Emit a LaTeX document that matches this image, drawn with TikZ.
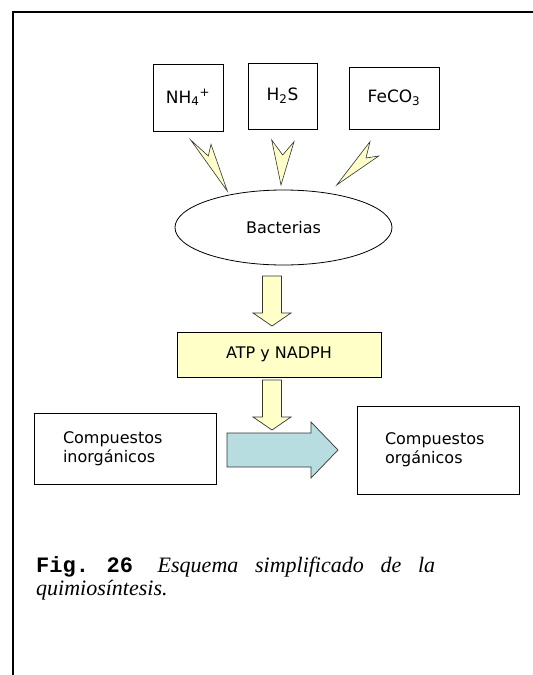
\documentclass[tikz,border=0pt]{standalone}
\usepackage{fontspec}
\setmainfont{DejaVu Sans}
\newfontfamily\capmono{Liberation Mono}
\newfontfamily\capserif{Liberation Serif}
\usetikzlibrary{shapes.geometric}
\definecolor{paleyellow}{RGB}{255,255,200}
\definecolor{paleblue}{RGB}{183,221,224}

\begin{document}
\begin{tikzpicture}[x=1pt,y=-1pt]

        \tikzset{
            frame/.style={line width=1.1pt},
            chem/.style={draw, line width=0.9pt, inner sep=0pt, font=\fontsize{17}{20}\selectfont},
            cell/.style={draw, ellipse, line width=0.8pt, inner sep=0pt,
                minimum width=217pt, minimum height=75pt, font=\fontsize{16}{19}\selectfont},
            energy/.style={draw, fill=paleyellow, line width=0.9pt, inner sep=0pt,
                font=\fontsize{16}{19}\selectfont},
            compound/.style={draw, line width=0.9pt, align=left, inner ysep=0pt,
                font=\fontsize{16}{19}\selectfont},
            bolt/.style={draw=black!80, fill=paleyellow, line width=0.6pt},
            yarrow/.style={draw=black!80, fill=paleyellow, line width=0.7pt},
            barrow/.style={draw=black!80, fill=paleblue, line width=0.7pt}
        }

        \useasboundingbox (0,0) rectangle (533,675);

        \draw[frame] (13,675) -- (13,12) -- (533,12);

        \node[chem, minimum width=70pt, minimum height=67pt] (nh4) at (188,97.5)
        {NH\textsubscript{4}\textsuperscript{+}};
        \node[chem, minimum width=69pt, minimum height=66pt] (h2s) at (282.5,96)
        {H\textsubscript{2}S};
        \node[chem, minimum width=90pt, minimum height=62pt] (feco3) at (394,98)
        {FeCO\textsubscript{3}};

        \node[cell] (bact) at (283.5,227.5) {Bacterias};

        \draw[bolt] (190.7,140) -- (208.3,156) -- (211,144.3) -- (227.3,191) -- cycle;
        \draw[bolt] (271.7,140) -- (282.7,155) -- (294,141.7) -- (281,185) -- cycle;
        \draw[bolt] (336.7,185) -- (370,141.7) -- (366,158) -- (378.7,156) -- cycle;

        \node[energy, minimum width=204pt, minimum height=45pt] (atp) at (279,354.5)
        {ATP y NADPH};

        \node[compound, text width=124pt, inner xsep=29pt, minimum height=71pt] (inorg)
        at (125,448.5) {Compuestos\\inorgánicos};
        \node[compound, text width=106pt, inner xsep=28pt, minimum height=88pt] (org)
        at (438,450) {Compuestos\\orgánicos};

        \coordinate (tipA) at (272,326);
        \coordinate (tipB) at (272,430);
        \coordinate (tipC) at (338,450);

        \draw[yarrow, shift={(tipA)}]
        (-9.5,-50) -- (9.5,-50) -- (9.5,-13) -- (19,-13) -- (0,0)
        -- (-19,-13) -- (-9.5,-13) -- cycle;
        \draw[yarrow, shift={(tipB)}]
        (-9.5,-50) -- (9.5,-50) -- (9.5,-13) -- (19,-13) -- (0,0)
        -- (-19,-13) -- (-9.5,-13) -- cycle;

        \draw[barrow, shift={(tipC)}]
        (-111,-17) -- (-27,-17) -- (-27,-28) -- (0,0) -- (-27,28)
        -- (-27,17) -- (-111,17) -- cycle;

        \node[anchor=base west, inner sep=0pt, text width=399pt, align=justify,
            font=\capserif\itshape\fontsize{22}{23}\selectfont] (caption) at (36,572.3)
        {\mbox{\capmono\upshape\bfseries Fig. 26}\hspace{8pt} Esquema simplificado de la\linebreak
            quimiosíntesis.};

    \end{tikzpicture}
\end{document}
